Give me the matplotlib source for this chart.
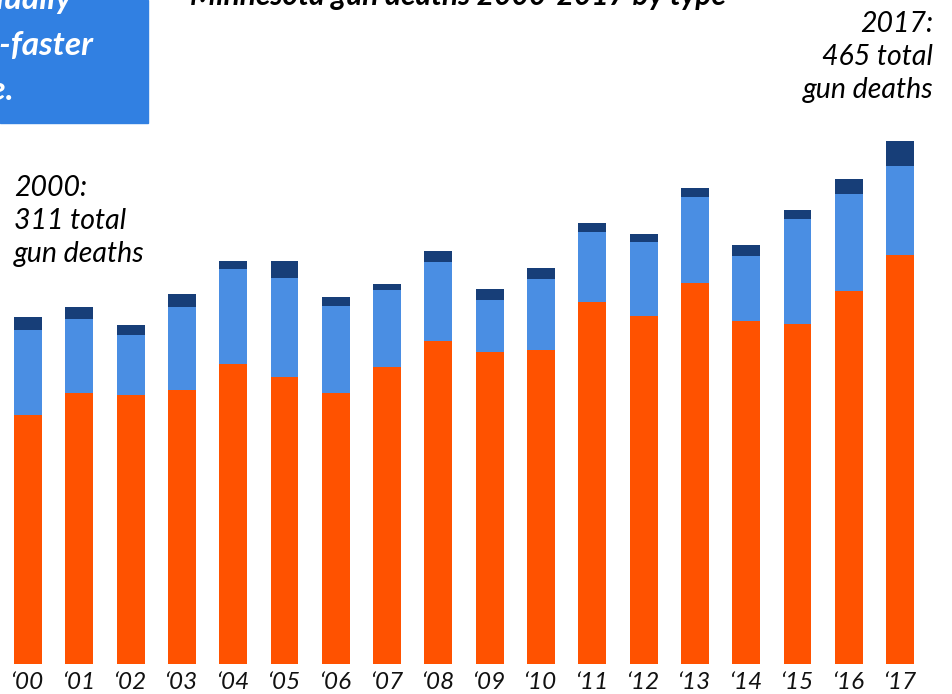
import matplotlib
matplotlib.use("Agg")
import matplotlib.pyplot as plt
import numpy as np

plt.rcParams['font.family'] = ['Lato', 'DejaVu Sans']

years = ["‘00", "‘01", "‘02", "‘03", "‘04", "‘05", "‘06", "‘07", "‘08",
         "‘09", "‘10", "‘11", "‘12", "‘13", "‘14", "‘15", "‘16", "‘17"]
suicides = [222, 242, 240, 245, 268, 256, 242, 265, 288, 279, 280, 323, 311, 340, 306, 304, 333, 365]
homicides = [76, 66, 54, 74, 85, 89, 78, 69, 71, 46, 64, 63, 66, 77, 58, 93, 87, 80]
other = [12, 11, 9, 11, 7, 15, 8, 5, 10, 10, 10, 8, 7, 8, 10, 8, 13, 22]

c_orange = '#FF5200'
c_blue = '#4A8EE3'
c_navy = '#173E78'
c_box = '#3180E2'

W, H = 952, 694
fig = plt.figure(figsize=(W / 100, H / 100), dpi=100)

base_px = 664
scale = 1.12  # px per death
ax = fig.add_axes([0, (H - base_px) / H, 1, base_px / H])
x = np.arange(len(years))
step = 51.3
x0 = 28
ax.set_xlim(-x0 / step, (W - x0) / step)
ax.set_ylim(0, base_px / scale)

s = np.array(suicides)
h = np.array(homicides)
o = np.array(other)
bw = 0.545
ax.bar(x, s, width=bw, color=c_orange)
ax.bar(x, h, width=bw, bottom=s, color=c_blue)
ax.bar(x, o, width=bw, bottom=s + h, color=c_navy)

ax.set_xticks(x)
ax.set_xticklabels(years, fontsize=17.5, style='italic', color='#111111')
ax.tick_params(axis='x', length=0, pad=6)
ax.set_yticks([])
for sp in ax.spines.values():
    sp.set_visible(False)
ax.patch.set_alpha(0)


def fx(px):
    return px / W


def fy(py):
    return 1 - py / H


# Blue box at top-left
fig.patches.append(plt.Rectangle((0, fy(123)), fx(148), 123 / H,
                                 transform=fig.transFigure, color=c_box, zorder=0))
box_kw = dict(color='white', fontsize=24, fontweight='bold', style='italic',
              ha='right', va='baseline')
fig.text(fx(72), fy(9), "gradually", **box_kw)
fig.text(fx(94), fy(55), "far-faster", **box_kw)
fig.text(fx(14), fy(100), "rate.", **box_kw)

# Title (cut off at top)
fig.text(fx(190), fy(5), "Minnesota gun deaths 2000-2017 by type",
         fontsize=21.5, fontweight='bold', style='italic', ha='left', va='baseline',
         color='black')

ann_kw = dict(fontsize=20.5, style='italic', color='black', va='baseline')
fig.text(fx(14), fy(196), "2000:", ha='left', **ann_kw)
fig.text(fx(14), fy(229), "311 total", ha='left', **ann_kw)
fig.text(fx(14), fy(262), "gun deaths", ha='left', **ann_kw)

fig.text(fx(933), fy(32), "2017:", ha='right', **ann_kw)
fig.text(fx(933), fy(65), "465 total", ha='right', **ann_kw)
fig.text(fx(933), fy(98), "gun deaths", ha='right', **ann_kw)

fig.savefig("out.png", dpi=100)
